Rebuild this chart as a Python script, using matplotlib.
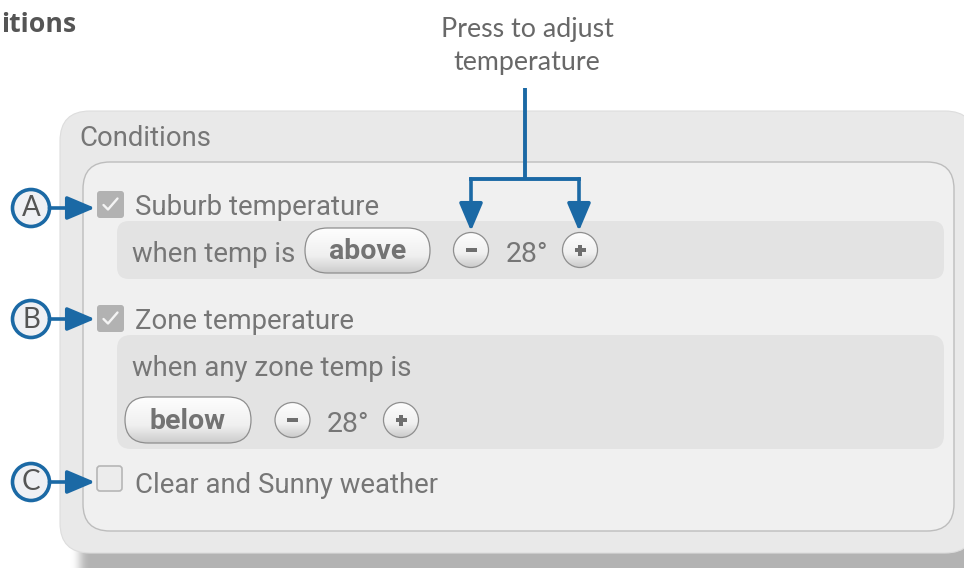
import numpy as np
import matplotlib
matplotlib.use("Agg")
import matplotlib.pyplot as plt
from matplotlib.patches import FancyBboxPatch, Circle, Rectangle

# ---------------- content ----------------
title_text = "Conditions"
panel_title = "Conditions"
callout_lines = ["Press to adjust", "temperature"]
row_letters = ["A", "B", "C"]
row_labels = ["Suburb temperature", "Zone temperature", "Clear and Sunny weather"]
row_checked = [True, True, False]
sub_prompts = ["when temp is", "when any zone temp is"]
comparisons = ["above", "below"]
temps = [28, 28]

W, H = 964, 568
BLUE = "#1b69a5"
TXT = "#767676"
UI_FONT = ["Roboto", "DejaVu Sans"]
CALL_FONT = ["Lato", "DejaVu Sans"]
FS = 19.8

fig = plt.figure(figsize=(W / 100, H / 100), dpi=100)
ax = fig.add_axes([0, 0, 1, 1])
ax.axis("off")
fig.patch.set_facecolor("white")

# ---------------- helpers ----------------
yy, xx = np.mgrid[0:H, 0:W] + 0.5


def rrect_mask(x0, y0, x1, y1, r):
    cx = np.clip(xx, x0 + r, x1 - r)
    cy = np.clip(yy, y0 + r, y1 - r)
    d = np.hypot(xx - cx, yy - cy)
    return ((d <= r) & (xx >= x0) & (xx <= x1) & (yy >= y0) & (yy <= y1)).astype(float)


def box_blur(a, r):
    for axis in (0, 1):
        pad = [(0, 0), (0, 0)]
        pad[axis] = (r + 1, r)
        p = np.pad(a, pad, mode="edge")
        c = np.cumsum(p, axis=axis)
        if axis == 0:
            a = (c[2 * r + 1:, :] - c[:-2 * r - 1, :]) / (2 * r + 1)
        else:
            a = (c[:, 2 * r + 1:] - c[:, :-2 * r - 1]) / (2 * r + 1)
    return a


def rbox(x0, y0, x1, y1, r, fc, ec="none", lw=1.0, z=1):
    p = FancyBboxPatch((x0, y0), x1 - x0, y1 - y0,
                       boxstyle=f"round,pad=0,rounding_size={r}",
                       fc=fc, ec=ec, lw=lw, zorder=z)
    ax.add_patch(p)
    return p


def gradient_fill(patch, x0, y0, x1, y1, z):
    n = 64
    t = np.linspace(0, 1, n)
    top = np.array([0.995, 0.995, 0.995])
    mid = np.array([0.94, 0.94, 0.94])
    bot = np.array([0.80, 0.80, 0.80])
    cols = np.where(t[:, None] < 0.62,
                    top + (mid - top) * (t[:, None] / 0.62),
                    mid + (bot - mid) * ((t[:, None] - 0.62) / 0.38))
    img = np.repeat(cols[:, None, :], 4, axis=1)
    im = ax.imshow(img, extent=(x0, x1, y1, y0), origin="upper",
                   aspect="auto", zorder=z, interpolation="bilinear")
    im.set_clip_path(patch)


def pill(x0, y0, x1, y1, z=5):
    r = (y1 - y0) / 2
    p = rbox(x0, y0, x1, y1, r, fc="none", ec="#8e8e8e", lw=0.9, z=z + 1)
    gradient_fill(p, x0, y0, x1, y1, z)
    return p


def round_button(cx, cy, r, sign, z=5):
    c = Circle((cx, cy), r, fc="none", ec="#8e8e8e", lw=0.9, zorder=z + 1)
    ax.add_patch(c)
    gradient_fill(c, cx - r, cy - r, cx + r, cy + r, z)
    ax.add_patch(Rectangle((cx - 5.5, cy - 2), 11, 4, fc="#6e6e6e", ec="none", zorder=z + 2))
    if sign == "+":
        ax.add_patch(Rectangle((cx - 1.6, cy - 5.5), 3.2, 11, fc="#6e6e6e", ec="none", zorder=z + 2))


def checkbox(x0, y0, size, checked, z=5):
    if checked:
        rbox(x0, y0, x0 + size, y0 + size, 3, fc="#b2b2b2", z=z)
        cx, cy = x0 + size / 2, y0 + size / 2
        ax.plot([cx - 7, cx - 2.5, cx + 7], [cy + 0.5, cy + 5, cy - 6],
                color="#f4f4f4", lw=1.7, solid_capstyle="round",
                solid_joinstyle="round", zorder=z + 1)
    else:
        rbox(x0, y0, x0 + size, y0 + size, 3, fc="#ececec", ec="#b6b6b6", lw=1.2, z=z)


def blue_arrow(x0, y0, x1, y1):
    ax.annotate("", xy=(x1, y1), xytext=(x0, y0),
                arrowprops=dict(arrowstyle="-|>,head_length=0.85,head_width=0.36",
                                mutation_scale=20, lw=2.6, color=BLUE,
                                shrinkA=0, shrinkB=0), zorder=8)


# ---------------- page title (cropped) ----------------
ax.text(1, 32, title_text[4:], ha="left", va="baseline", fontsize=19.2,
        fontweight="bold", color="#555555", family=["Open Sans", "DejaVu Sans"])

# ---------------- panel shadow ----------------
sh = rrect_mask(80, 128, 1000, 640, 30)
sh = box_blur(box_blur(box_blur(sh, 4), 4), 4)
rgba = np.zeros((H, W, 4))
rgba[..., 3] = sh * 0.30
ax.imshow(rgba, extent=(0, W, H, 0), origin="upper", aspect="auto", zorder=0.5,
          interpolation="bilinear")

# ---------------- panels ----------------
rbox(60, 111, 975, 553, 30, fc="#e9e9e9", ec="#dddddd", lw=0.8, z=1)
ax.text(79, 146, panel_title, ha="left", va="baseline", fontsize=FS,
        color=TXT, family=UI_FONT, zorder=3)
rbox(83, 162, 954, 531, 27, fc="#f0f0f0", ec="#bdbdbd", lw=1.0, z=2)
rbox(117, 221, 944, 279, 12, fc="#e3e3e3", z=3)
rbox(117, 335, 944, 449, 14, fc="#e3e3e3", z=3)

# ---------------- rows ----------------
check_y = [191, 305, 466]
label_base = [215, 329, 493]
circle_cy = [208, 319, 482]
for i in range(3):
    checkbox(97, check_y[i], 27 if row_checked[i] else 25, row_checked[i])
    ax.text(135, label_base[i], row_labels[i], ha="left", va="baseline",
            fontsize=FS, color=TXT, family=UI_FONT, zorder=6)
    ax.add_patch(Circle((31, circle_cy[i]), 18.5, fc="#eff0f4", ec=BLUE,
                        lw=2.6, zorder=7))
    ax.text(31, circle_cy[i] + 0.5, row_letters[i], ha="center", va="center",
            fontsize=20, color="#555555", family=CALL_FONT,
            fontweight="normal", zorder=8)
    blue_arrow(49.5, circle_cy[i], 95, circle_cy[i])

# row A sub-panel
ax.text(132, 262, sub_prompts[0], ha="left", va="baseline", fontsize=FS,
        color=TXT, family=UI_FONT, zorder=6)
pill(305, 228, 430, 273)
ax.text(367.5, 259, comparisons[0], ha="center", va="baseline", fontsize=20.5,
        fontweight="bold", color="#737373", family=UI_FONT, zorder=8)
round_button(471, 250, 17.5, "-")
ax.text(527, 262, f"{temps[0]}°", ha="center", va="baseline", fontsize=20.5,
        color=TXT, family=UI_FONT, zorder=6)
round_button(580, 250, 17.5, "+")

# row B sub-panel
ax.text(132, 376, sub_prompts[1], ha="left", va="baseline", fontsize=FS,
        color=TXT, family=UI_FONT, zorder=6)
pill(125, 397, 251, 443)
ax.text(188, 429, comparisons[1], ha="center", va="baseline", fontsize=20.5,
        fontweight="bold", color="#737373", family=UI_FONT, zorder=8)
round_button(292.5, 420, 17.5, "-")
ax.text(348, 432, f"{temps[1]}°", ha="center", va="baseline", fontsize=20.5,
        color=TXT, family=UI_FONT, zorder=6)
round_button(401, 420, 17.5, "+")

# ---------------- callout ----------------
ax.text(527, 37, callout_lines[0], ha="center", va="baseline", fontsize=19.3,
        color="#686868", family=CALL_FONT, zorder=6)
ax.text(527, 70, callout_lines[1], ha="center", va="baseline", fontsize=19.3,
        color="#686868", family=CALL_FONT, zorder=6)
ax.plot([525, 525], [88, 179], color=BLUE, lw=2.8, solid_capstyle="butt", zorder=8)
ax.plot([471, 579], [179, 179], color=BLUE, lw=2.8, solid_capstyle="projecting",
        solid_joinstyle="miter", zorder=8)
blue_arrow(471, 179, 471, 231)
blue_arrow(579, 179, 579, 231)

ax.set_xlim(0, W)
ax.set_ylim(H, 0)
fig.savefig("out.png", dpi=100, facecolor="white")
